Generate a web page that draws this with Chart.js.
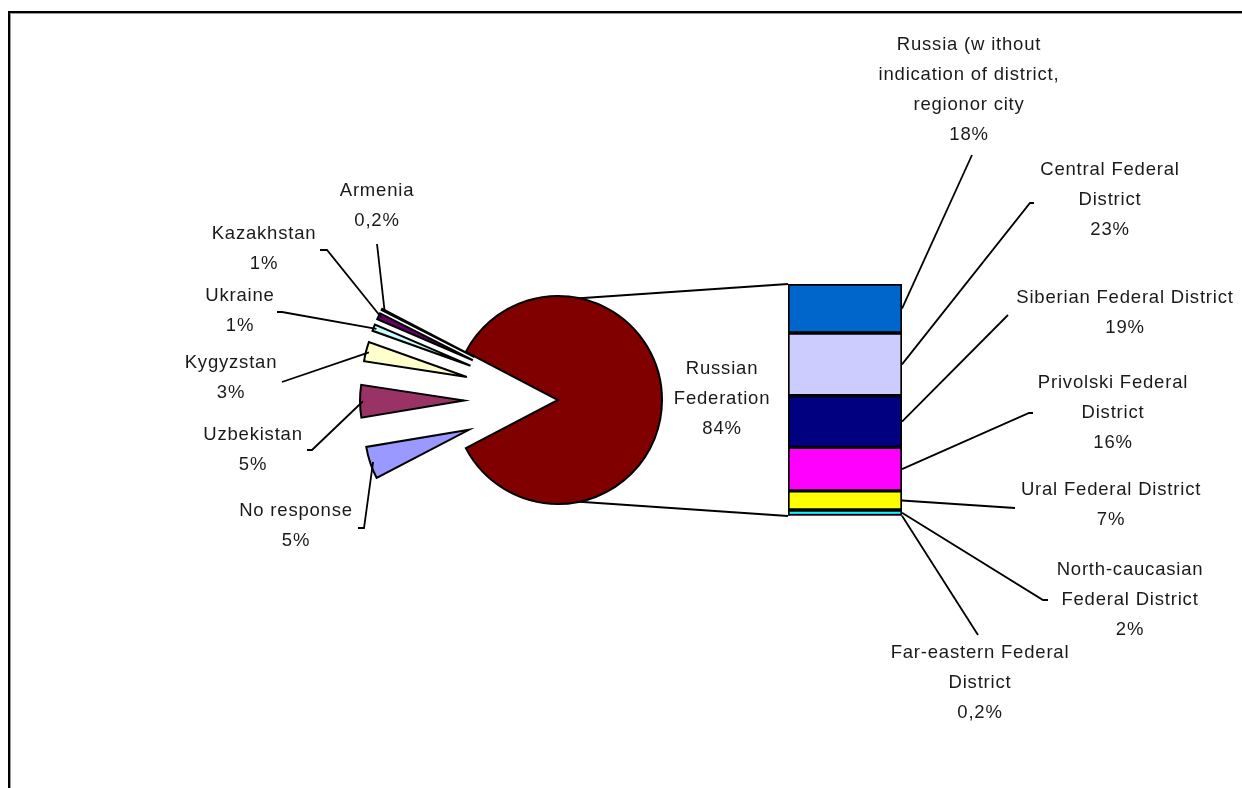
<!DOCTYPE html>
<html lang="en">
<head>
<meta charset="UTF-8">
<title>Respondents by place of residence</title>
<script src="https://cdn.jsdelivr.net/npm/chart.js@4.4.0/dist/chart.umd.min.js"></script>
<style>
  html, body { margin: 0; padding: 0; background: #fff; overflow: hidden; }
  #wrap { position: relative; width: 1242px; height: 788px; }
  #frame { position: absolute; left: 8px; top: 11px; width: 1400px; height: 900px;
           border-left: 2px solid #000; border-top: 2px solid #000;
           box-shadow: inset 1px 1px 0 #9a9a9a; }
  canvas { position: absolute; left: 0; top: 0; }
</style>
</head>
<body>
<div id="wrap">
  <div id="frame"></div>
  <canvas id="pie" width="1242" height="788"></canvas>
  <canvas id="bar" width="1242" height="788"></canvas>
</div>
<script>
// pie: country of residence
var pieNames = ['Russian\nFederation', 'No response', 'Uzbekistan', 'Kygyzstan', 'Ukraine', 'Kazakhstan', 'Armenia'];
var pieValues = [84, 5, 5, 3, 1, 1, 0.2];
var pieColors = ['#800000', '#9999FF', '#993366', '#FFFFCC', '#CCFFFF', '#660066', '#FF8080'];

// bar: Russian Federation split by district, bottom to top
var barNames = ['Far-eastern Federal\nDistrict', 'North-caucasian\nFederal District', 'Ural Federal District',
                'Privolski Federal\nDistrict', 'Siberian Federal District', 'Central Federal\nDistrict',
                'Russia (w ithout\nindication of district,\nregionor city'];
var barValues = [0.2, 2, 7, 16, 19, 23, 18];
var barColors = ['#800080', '#00FFFF', '#FFFF00', '#FF00FF', '#000080', '#CCCCFF', '#0066CC'];

// layout
var PIE_CX = 558, PIE_CY = 400, PIE_R = 104, EXPLODE = 94;
var BAR_BOX = {left: 788, right: 902, top: 284, bottom: 516};
var FONT = '18.5px "Liberation Sans", Arial, sans-serif';
var LINE_H = 30;

// label first-line centre, and leader end [x, y, stub]
var pieLabelPos = [[722, 369], [296, 511], [253, 435], [231, 363], [240, 296], [264, 234], [377, 191]];
var pieLeader = [null, [358, 528, 6], [307, 450, 5], [282, 382, 0], [277, 312, 5], [320, 250, 7], [377, 244, 0]];
var barLabelPos = [[980, 653], [1130, 570], [1111, 490], [1113, 383], [1125, 298], [1110, 170], [969, 45]];
var barLeader = [[978, 635, 0], [1048, 600, -5], [1015, 508, 0], [1033, 413, -4], [1008, 315, 0], [1034, 203, -4], [972, 155, 0]];

function pct(v) { return String(v).replace('.', ',') + '%'; }

function drawLabel(ctx, name, value, pos) {
  var lines = name.split('\n').concat([pct(value)]);
  ctx.save();
  ctx.font = FONT;
  ctx.letterSpacing = '0.8px';
  ctx.fillStyle = '#1a1a1a';
  ctx.textAlign = 'center';
  ctx.textBaseline = 'middle';
  lines.forEach(function (l, k) { ctx.fillText(l, pos[0], pos[1] + k * LINE_H); });
  ctx.restore();
}

function drawLeader(ctx, from, to) {
  ctx.save();
  ctx.strokeStyle = '#000';
  ctx.lineWidth = 1.8;
  ctx.beginPath();
  ctx.moveTo(from[0], from[1]);
  ctx.lineTo(from[0] + from[2], from[1]);
  ctx.lineTo(to[0], to[1]);
  ctx.stroke();
  ctx.restore();
}

var pieTotal = pieValues.reduce(function (a, b) { return a + b; }, 0);
var barTotal = barValues.reduce(function (a, b) { return a + b; }, 0);
var mainSpan = pieValues[0] / pieTotal * 360;

// every slice but the first is pulled out of the pie
function explodeOf(i) { return i === 0 ? 0 : EXPLODE; }

var pieLabelPlugin = {
  id: 'pieLabels',
  beforeDatasetsDraw: function (chart) {
    // chart.js 'offset' also shrinks thin slices, so shift the arcs by hand
    chart.getDatasetMeta(0).data.forEach(function (el, i) {
      if (el._exploded) return;
      var baseDraw = Object.getPrototypeOf(el).draw;
      el._exploded = true;
      el.draw = function (ctx) {
        var mid = (this.startAngle + this.endAngle) / 2;
        ctx.save();
        ctx.translate(Math.cos(mid) * explodeOf(i), Math.sin(mid) * explodeOf(i));
        baseDraw.call(this, ctx);
        ctx.restore();
      };
    });
  },
  afterDatasetsDraw: function (chart) {
    var ctx = chart.ctx;
    var meta = chart.getDatasetMeta(0);
    meta.data.forEach(function (el, i) {
      if (pieLeader[i]) {
        var mid = (el.startAngle + el.endAngle) / 2;
        var d = el.outerRadius + explodeOf(i) - 3;
        drawLeader(ctx, pieLeader[i], [el.x + Math.cos(mid) * d, el.y + Math.sin(mid) * d]);
      }
      drawLabel(ctx, pieNames[i], pieValues[i], pieLabelPos[i]);
    });
  }
};

var pieChart = new Chart(document.getElementById('pie'), {
  type: 'pie',
  data: {
    labels: pieNames,
    datasets: [{
      data: pieValues,
      backgroundColor: pieColors,
      borderColor: '#000',
      borderWidth: 2,
      hoverBorderWidth: 2,
      borderJoinStyle: 'miter',
      hoverOffset: 0
    }]
  },
  options: {
    responsive: false,
    animation: false,
    events: [],
    rotation: 90 - mainSpan / 2,
    radius: PIE_R,
    layout: {padding: {left: PIE_CX - 250, right: 1242 - PIE_CX - 250, top: PIE_CY - 250, bottom: 788 - PIE_CY - 250}},
    plugins: {legend: {display: false}, tooltip: {enabled: false}}
  },
  plugins: [pieLabelPlugin]
});

var barLabelPlugin = {
  id: 'barLabels',
  afterDatasetsDraw: function (chart) {
    var ctx = chart.ctx;
    // lines joining the big slice to the bar
    var rf = pieChart.getDatasetMeta(0).data[0];
    var a = 78 * Math.PI / 180;
    var area = chart.chartArea;
    ctx.save();
    ctx.strokeStyle = '#000';
    ctx.lineWidth = 1.8;
    ctx.beginPath();
    ctx.moveTo(rf.x + Math.cos(-a) * rf.outerRadius, rf.y + Math.sin(-a) * rf.outerRadius);
    ctx.lineTo(area.left, area.top);
    ctx.moveTo(rf.x + Math.cos(a) * rf.outerRadius, rf.y + Math.sin(a) * rf.outerRadius);
    ctx.lineTo(area.left, area.bottom);
    ctx.stroke();
    ctx.restore();

    barValues.forEach(function (v, i) {
      var bar = chart.getDatasetMeta(i).data[0];
      drawLeader(ctx, barLeader[i], [bar.x + bar.width / 2, (bar.y + bar.base) / 2]);
      drawLabel(ctx, barNames[i], v, barLabelPos[i]);
    });
  }
};

new Chart(document.getElementById('bar'), {
  type: 'bar',
  data: {
    labels: ['Russian Federation'],
    datasets: barValues.map(function (v, i) {
      return {
        label: barNames[i],
        data: [v],
        backgroundColor: barColors[i],
        borderColor: '#000',
        borderWidth: 2,
        borderSkipped: false,
        barPercentage: 1,
        categoryPercentage: 1
      };
    })
  },
  options: {
    responsive: false,
    animation: false,
    events: [],
    layout: {padding: {left: BAR_BOX.left, right: 1242 - BAR_BOX.right, top: BAR_BOX.top, bottom: 788 - BAR_BOX.bottom}},
    scales: {
      x: {display: false, stacked: true},
      y: {display: false, stacked: true, min: 0, max: barTotal}
    },
    plugins: {legend: {display: false}, tooltip: {enabled: false}}
  },
  plugins: [barLabelPlugin]
});
</script>
</body>
</html>
